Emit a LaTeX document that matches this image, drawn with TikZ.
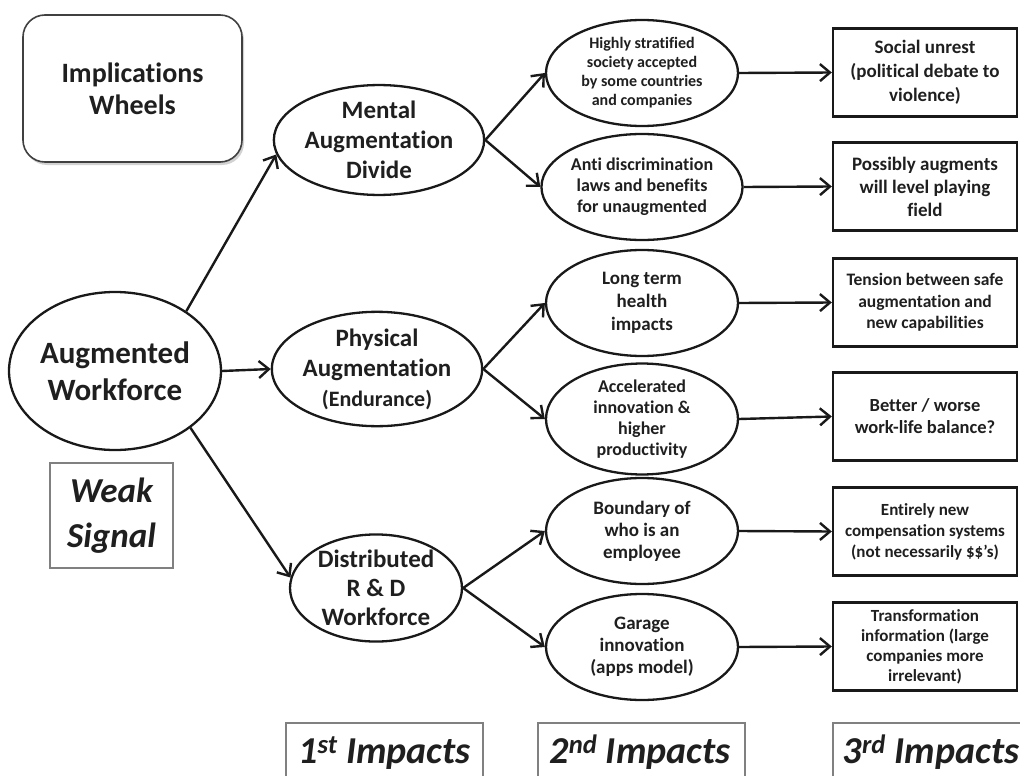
\documentclass[tikz,border=0pt]{standalone}
\usepackage{fontspec}
\setmainfont{Carlito}[RawFeature={-liga;-clig;-dlig}]
\usetikzlibrary{arrows.meta,shapes.geometric,shadows}

% font size helper: size / baseline skip in pt
\newcommand\setfs[2]{\fontsize{#1}{#2}\selectfont}

\begin{document}
\begin{tikzpicture}[x=1pt,y=-1pt,
  every node/.style={font=\bfseries, text=black!88, align=center, inner sep=0pt},
  wheel/.style={ellipse, draw=black!90, line width=2.3pt, fill=white},
  firstwheel/.style={wheel, minimum width=172pt, minimum height=106pt},
  secondwheel/.style={wheel, minimum width=192pt, minimum height=106pt},
  outcome/.style={rectangle, draw=black!90, line width=2.4pt, fill=white,
    minimum width=184pt, minimum height=88pt},
  labelbox/.style={draw=black!50, line width=2pt},
  conn/.style={line width=2.4pt, draw=black!90,
    -{Straight Barb[length=10pt,width=17pt,line width=2.4pt]}}]

\useasboundingbox (0,0) rectangle (1020,776);
\clip (0,0) rectangle (1020,776);
\fill[white] (0,0) rectangle (1020,776);

% title card
\node[draw=black!75, line width=1.6pt, rounded corners=22pt, fill=white,
  minimum width=219pt, minimum height=147pt,
  drop shadow={shadow xshift=2pt, shadow yshift=-3pt, fill=black!35},
  font=\bfseries\setfs{28}{32}] (title) at (132.5,88.5) {Implications\\Wheels};

% root signal
\node[wheel, minimum width=206pt, minimum height=158pt,
  font=\bfseries\setfs{31}{37}] (aw) at (115,371) {Augmented\\Workforce};
\node[labelbox, minimum width=123pt, minimum height=105pt,
  font=\bfseries\itshape\setfs{35}{45}] (ws) at (111.5,515.5) {Weak\\Signal};

% first impacts
\node[firstwheel, font=\bfseries\setfs{25}{30}] (mental) at (379,140)
  {Mental\\Augmentation\\Divide};
\node[firstwheel, minimum height=108pt, font=\bfseries\setfs{25}{30}] (phys) at (377,369)
  {Physical\\Augmentation\\{\setfs{22}{30}(Endurance)}};
\node[firstwheel, font=\bfseries\setfs{25}{29}] (dist) at (376,588)
  {Distributed\\R \& D\\Workforce};

% second impacts
\node[secondwheel, font=\bfseries\setfs{16}{19}] (strat) at (642,73)
  {Highly stratified\\society accepted\\by some countries\\and companies};
\node[secondwheel, font=\bfseries\setfs{18}{21}] (anti) at (642,187)
  {Anti discrimination\\laws and benefits\\for unaugmented};
\node[secondwheel, font=\bfseries\setfs{19}{23}] (health) at (642,303)
  {Long term\\health\\impacts};
\node[secondwheel, minimum height=104pt, font=\bfseries\setfs{18}{21}] (accel) at (642,419)
  {Accelerated\\innovation \&\\higher\\productivity};
\node[secondwheel, font=\bfseries\setfs{19}{22}] (bound) at (642,531)
  {Boundary of\\who is an\\employee};
\node[secondwheel, font=\bfseries\setfs{19}{22}] (garage) at (642,647)
  {Garage\\innovation\\(apps model)};

% third impacts
\node[outcome, font=\bfseries\setfs{19}{24}] (unrest) at (925,72.5)
  {Social unrest\\(political debate to\\violence)};
\node[outcome, font=\bfseries\setfs{19}{23}] (level) at (925,186.5)
  {Possibly augments\\will level playing\\field};
\node[outcome, font=\bfseries\setfs{17.5}{21.5}] (tension) at (925,302.5)
  {Tension between safe\\augmentation and\\new capabilities};
\node[outcome, font=\bfseries\setfs{18.5}{22}] (balance) at (925,416.5)
  {Better / worse\\work-life balance?};
\node[outcome, font=\bfseries\setfs{17}{21}] (comp) at (925,531.5)
  {Entirely new\\compensation systems\\(not necessarily \$\$’s)};
\node[outcome, font=\bfseries\setfs{17}{20}] (transf) at (925,646.5)
  {Transformation\\information (large\\companies more\\irrelevant)};

% column captions
\node[labelbox, minimum width=197pt, minimum height=80pt, anchor=north] (c1box) at (384.5,722) {};
\node[labelbox, minimum width=207pt, minimum height=80pt, anchor=north] (c2box) at (641.5,722) {};
\node[labelbox, minimum width=197pt, minimum height=80pt, anchor=north] (c3box) at (931.5,722) {};
\node[font=\bfseries\itshape\setfs{38}{44}, anchor=base] (c1) at (384.5,763) {1\textsuperscript{st} Impacts};
\node[font=\bfseries\itshape\setfs{38}{44}, anchor=base] (c2) at (640,763) {2\textsuperscript{nd} Impacts};
\node[font=\bfseries\itshape\setfs{38}{44}, anchor=base] (c3) at (931,763) {3\textsuperscript{rd} Impacts};

% connectors
\draw[conn] (aw.40) -- (mental.188);
\draw[conn] (aw.east) -- (phys.west);
\draw[conn] (aw.-37) -- (dist.173);

\draw[conn] (mental.east) -- (strat.west);
\draw[conn] (mental.east) -- (anti.west);
\draw[conn] (phys.east) -- (health.west);
\draw[conn] (phys.east) -- (accel.west);
\draw[conn] (dist.east) -- (bound.west);
\draw[conn] (dist.east) -- (garage.west);

\draw[conn] (strat.east) -- (unrest.west);
\draw[conn] (anti.east) -- (level.west);
\draw[conn] (health.east) -- (tension.west);
\draw[conn] (accel.east) -- (balance.west);
\draw[conn] (bound.east) -- (comp.west);
\draw[conn] (garage.east) -- (transf.west);
\end{tikzpicture}
\end{document}
